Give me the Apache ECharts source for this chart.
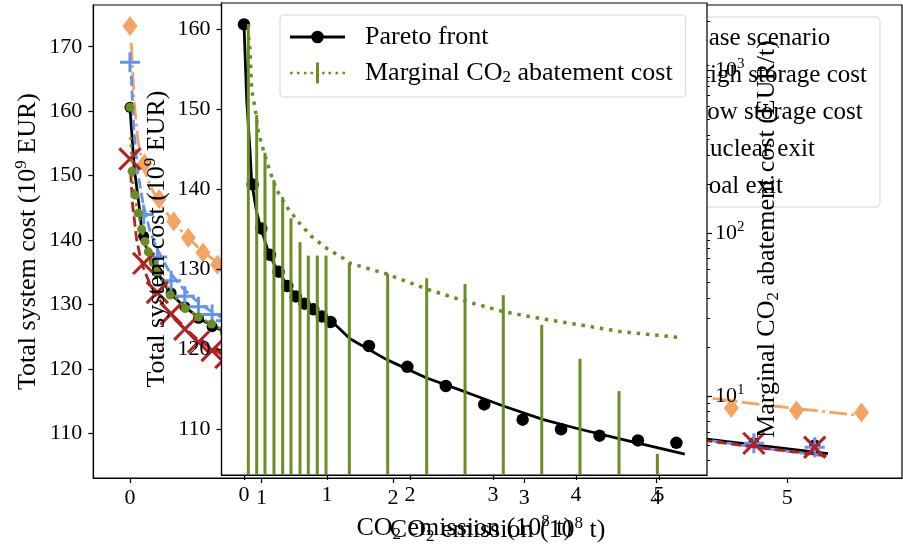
<!DOCTYPE html>
<html>
<head>
<meta charset="utf-8">
<title>Pareto front and scenarios</title>
<script src="https://cdn.jsdelivr.net/npm/echarts@6.0.0/dist/echarts.min.js"></script>
<style>
  html, body { margin: 0; padding: 0; background: #fff; }
  #main { width: 903px; height: 546px; }
</style>
</head>
<body>
<div id="main"></div>
<script>
// values
// x: CO2 emission (1e8 t), y: total system cost (1e9 EUR)

// base scenario = Pareto front of the inset
const baseX = [0, 0.104, 0.208, 0.313, 0.417, 0.521, 0.625, 0.729, 0.834, 0.938, 1.042, 1.505, 1.968, 2.431, 2.894, 3.357, 3.820, 4.283, 4.746, 5.209]
const baseCost = [160.6, 140.6, 135.1, 131.8, 129.7, 127.9, 126.6, 125.7, 125.0, 124.1, 123.4, 120.4, 117.8, 115.4, 113.1, 111.2, 110.0, 109.2, 108.6, 108.3]
// fitted curve through the front
const baseFitX = [0, 0.033, 0.072, 0.093, 0.153, 0.201, 0.305, 0.413, 0.55, 0.7, 0.85, 1.057, 1.277, 1.719, 2.201, 2.683, 3.124, 3.606, 4.048, 4.53, 5.31]
const baseFitCost = [160.6, 151.1, 144.9, 140.8, 137.1, 135.2, 131.8, 129.7, 127.6, 126.0, 124.8, 123.5, 121.3, 118.7, 116.4, 114.6, 112.9, 111.2, 110.0, 108.8, 106.9]

// high storage cost
const highX = [0, 0.111, 0.222, 0.333, 0.444, 0.555, 0.666, 0.777, 0.888, 0.999, 1.11, 1.605, 2.10, 2.595, 3.09, 3.585, 4.08, 4.575, 5.07, 5.565]
const highCost = [173.2, 151.9, 146.4, 142.9, 140.4, 138.1, 136.2, 135.0, 133.8, 132.8, 131.8, 128.3, 125.3, 122.8, 120.6, 118.6, 115.2, 114.0, 113.6, 113.3]
const highFitX = [0.01, 0.03, 0.06, 0.1, 0.15, 0.22, 0.33, 0.44, 0.55, 0.66, 0.8, 1.0, 1.5, 2.0, 2.5, 3.0, 3.5, 4.0, 4.39, 4.8, 5.2, 5.57]
const highFitCost = [170.6, 162.0, 155.5, 151.5, 148.6, 145.9, 142.8, 140.4, 138.3, 136.6, 134.8, 132.6, 128.6, 125.6, 123.1, 121.0, 119.1, 117.2, 115.6, 114.5, 113.6, 112.8]

// low storage cost
const lowX = baseX
const lowCost = [152.6, 136.4, 131.9, 128.6, 126.2, 124.2, 122.9, 121.8, 120.9, 120.1, 119.4, 117.0, 115.0, 113.3, 111.9, 110.7, 109.7, 109.0, 108.5, 107.9]
const lowFitX = [0.005, 0.02, 0.05, 0.08, 0.1, 0.15, 0.2, 0.3, 0.4, 0.5, 0.6, 0.7, 1.0, 1.5, 2.0, 2.5, 3.0, 3.5, 4.0, 4.39, 4.8, 5.3]
const lowFitCost = [150.5, 145.5, 140.2, 137.2, 135.8, 133.3, 131.4, 128.7, 126.6, 124.9, 123.5, 122.3, 119.8, 117.0, 115.0, 113.3, 111.8, 110.5, 109.6, 108.9, 107.8, 106.6]

// nuclear exit
const nucX = baseX
const nucCost = [167.6, 144.0, 137.4, 133.7, 131.3, 129.7, 128.5, 127.5, 126.6, 125.8, 125.0, 122.1, 119.4, 116.9, 114.6, 112.7, 111.0, 109.7, 108.5, 107.9]
const nucFitX = [0.01, 0.03, 0.06, 0.1, 0.15, 0.2, 0.3, 0.4, 0.5, 0.6, 0.7, 1.0, 1.5, 2.0, 2.5, 3.0, 3.5, 4.0, 4.39, 4.8, 5.3]
const nucFitCost = [165.5, 157.0, 150.5, 145.6, 141.6, 138.9, 135.1, 132.6, 130.7, 129.2, 128.0, 125.3, 122.0, 119.2, 116.8, 114.6, 112.6, 110.6, 109.0, 107.8, 106.5]

// coal exit
const coalX = [0, 0.016, 0.039, 0.064, 0.089, 0.114, 0.139, 0.177, 0.203, 0.306, 0.42, 0.52, 0.62, 0.72, 0.83, 0.93, 1.04, 1.5, 1.97, 2.43, 2.89, 3.36]
const coalCost = [160.6, 150.7, 147.0, 144.2, 141.7, 139.8, 138.2, 136.5, 135.1, 131.5, 129.4, 128.1, 127.0, 126.0, 125.1, 124.3, 123.6, 120.5, 117.9, 115.6, 113.5, 111.7]
const coalFitX = [0.005, 0.02, 0.05, 0.1, 0.15, 0.2, 0.3, 0.4, 0.5, 0.6, 0.7, 1.0, 1.5, 2.0, 2.5, 3.0, 3.4]
const coalFitCost = [156.0, 149.2, 145.3, 140.8, 137.9, 135.7, 132.2, 130.0, 128.4, 127.2, 126.2, 124.0, 120.6, 117.9, 115.6, 113.6, 112.2]

// inset: marginal CO2 abatement cost (EUR/t), log axis
const stemX = [0.052, 0.153, 0.253, 0.361, 0.466, 0.566, 0.675, 0.775, 0.883, 0.988, 1.269, 1.731, 2.201, 2.663, 3.124, 3.587, 4.048, 4.518, 4.980]
const stemCost = [1914, 530, 311, 211, 166, 123, 87.7, 72.6, 72.6, 72.6, 65.2, 56.0, 52.7, 48.6, 41.5, 27.3, 16.9, 10.7, 4.41]
const margFitX = [0.055, 0.072, 0.093, 0.133, 0.172, 0.233, 0.313, 0.394, 0.514, 0.654, 0.816, 0.996, 1.196, 1.277, 1.719, 2.201, 2.683, 3.124, 3.606, 4.048, 4.53, 5.253]
const margFitCost = [1600, 1327, 753, 585, 418, 323, 238, 184, 145, 117, 94.8, 80.5, 70.0, 65.2, 56.0, 45.2, 37.9, 32.9, 29.6, 27.3, 24.8, 22.8]

// ticks
const outerXTicks = [0, 1, 2, 3, 4, 5]
const outerXLabels = ['0', '1', '2', '3', '4', '5']
const outerYTicks = [110, 120, 130, 140, 150, 160, 170]
const outerYLabels = ['110', '120', '130', '140', '150', '160', '170']
const insetXTicks = [0, 1, 2, 3, 4, 5]
const insetXLabels = ['0', '1', '2', '3', '4', '5']
const insetYTicks = [110, 120, 130, 140, 150, 160]
const insetYLabels = ['110', '120', '130', '140', '150', '160']
const logTicks = [10, 100, 1000]
const logTickExp = ['1', '2', '3']
const logMinorTicks = [4, 5, 6, 7, 8, 9, 20, 30, 40, 50, 60, 70, 80, 90, 200, 300, 400, 500, 600, 700, 800, 900, 2000]

const scenarioNames = ['Base scenario', 'High storage cost', 'Low storage cost', 'Nuclear exit', 'Coal exit']

const FONT = 'Liberation Serif'
const BLACK = '#000000'
const ORANGE = '#f4a460'
const BLUE = '#6495ed'
const RED = '#b22222'
const GREEN = '#6b8e23'

const PLUS = 'path://M-1.5,-10L1.5,-10L1.5,-1.5L10,-1.5L10,1.5L1.5,1.5L1.5,10L-1.5,10L-1.5,1.5L-10,1.5L-10,-1.5L-1.5,-1.5Z'
const CROSS = 'path://M-1.5,-14.8L1.5,-14.8L1.5,-1.5L14.8,-1.5L14.8,1.5L1.5,1.5L1.5,14.8L-1.5,14.8L-1.5,1.5L-14.8,1.5L-14.8,-1.5L-1.5,-1.5Z'
// legend handles of the inset (55 x 22 box)
const PARETO_ICON = 'path://M0,9.6h21.3v2.8h-21.3z M33.7,9.6h21.3v2.8h-21.3z M21.2,11a6.3,6.3 0 1,1 12.6,0a6.3,6.3 0 1,1 -12.6,0z'
const MARG_ICON = 'path://M0,9.75h2.5v2.5h-2.5z M7,9.75h2.5v2.5h-2.5z M14,9.75h2.5v2.5h-2.5z M20.5,9.75h2.5v2.5h-2.5z M26,0.5h3v21h-3z M32,9.75h2.5v2.5h-2.5z M38.5,9.75h2.5v2.5h-2.5z M45.5,9.75h2.5v2.5h-2.5z M52.5,9.75h2.5v2.5h-2.5z'

function pts(xs, ys) {
  return xs.map((x, i) => [x, ys[i]])
}

function pick(ticks, labels) {
  return function(v) {
    for (let i = 0; i < ticks.length; i++) {
      if (Math.abs(ticks[i] - v) < 1e-6) return labels[i]
    }
    return ''
  }
}

const nameRich = {
  t: { fontFamily: FONT, fontSize: 26, lineHeight: 30, color: BLACK },
  sup: { fontFamily: FONT, fontSize: 17, lineHeight: 18, verticalAlign: 'top', color: BLACK },
  sub: { fontFamily: FONT, fontSize: 17, lineHeight: 12, verticalAlign: 'bottom', color: BLACK }
}
const costName = '{t|Total system cost (10}{sup|9}{t| EUR)}'
const emissionName = '{t|CO}{sub|2}{t| emission (10}{sup|8}{t| t)}'
const marginalName = '{t|Marginal CO}{sub|2}{t| abatement cost (EUR/t)}'

const lineStyle = { color: BLACK, width: 1.2 }
const tickFont = { color: BLACK, fontFamily: FONT, fontSize: 22 }

function axisBase(extra) {
  return Object.assign({
    type: 'value',
    axisLine: { show: true, onZero: false, lineStyle: lineStyle },
    splitLine: { show: false },
    nameMoveOverlap: false
  }, extra)
}

// outer scenario series
function curve(name, xs, ys, color, width, dash, z) {
  return {
    type: 'line', name: name, xAxisIndex: 0, yAxisIndex: 0, data: pts(xs, ys),
    showSymbol: false, symbol: 'circle', z: z, silent: true,
    lineStyle: { color: color, width: width, type: dash }, itemStyle: { color: color }
  }
}
function marks(name, xs, ys, color, symbol, size, rotate, z) {
  return {
    type: 'scatter', name: name, xAxisIndex: 0, yAxisIndex: 0, data: pts(xs, ys),
    symbol: symbol, symbolSize: size, symbolRotate: rotate, z: z, silent: true,
    itemStyle: { color: color, opacity: 1 }
  }
}

const chart = echarts.init(document.getElementById('main'), null, { renderer: 'canvas' })

const option = {
  animation: false,
  backgroundColor: '#ffffff',
  grid: [
    { left: 93.3, right: 1, top: 5, bottom: 68, show: true, borderColor: BLACK, borderWidth: 1.2,
      backgroundColor: 'transparent', containLabel: false, outerBoundsMode: 'none' },
    { left: 221.5, top: 3, width: 485.5, height: 472, show: true, borderColor: BLACK, borderWidth: 1.2,
      backgroundColor: '#ffffff', containLabel: false, outerBoundsMode: 'none', zlevel: 1 }
  ],
  xAxis: [
    axisBase({
      gridIndex: 0, min: -0.279, max: 5.873,
      axisTick: { show: true, length: 5, lineStyle: lineStyle, customValues: outerXTicks },
      axisLabel: Object.assign({ margin: 9, customValues: outerXTicks, formatter: pick(outerXTicks, outerXLabels) }, tickFont),
      name: emissionName, nameLocation: 'middle', nameGap: 37, nameTextStyle: { rich: nameRich }
    }),
    axisBase({
      gridIndex: 1, zlevel: 1, min: -0.271, max: 5.578,
      axisTick: { show: true, length: 5, lineStyle: lineStyle, customValues: insetXTicks },
      axisLabel: Object.assign({ margin: 9, customValues: insetXTicks, formatter: pick(insetXTicks, insetXLabels) }, tickFont),
      name: emissionName, nameLocation: 'middle', nameGap: 38, nameTextStyle: { rich: nameRich }
    })
  ],
  yAxis: [
    axisBase({
      gridIndex: 0, min: 103.13, max: 176.47,
      axisTick: { show: true, length: 5, lineStyle: lineStyle, customValues: outerYTicks },
      axisLabel: Object.assign({ margin: 11, customValues: outerYTicks, formatter: pick(outerYTicks, outerYLabels) }, tickFont),
      name: costName, nameLocation: 'middle', nameGap: 50, nameRotate: 90, nameTextStyle: { rich: nameRich }
    }),
    axisBase({
      gridIndex: 1, zlevel: 1, min: 104.28, max: 163.28,
      axisTick: { show: true, length: 5, lineStyle: lineStyle, customValues: insetYTicks },
      axisLabel: Object.assign({ margin: 11, customValues: insetYTicks, formatter: pick(insetYTicks, insetYLabels) }, tickFont),
      name: costName, nameLocation: 'middle', nameGap: 49, nameRotate: 90, nameTextStyle: { rich: nameRich }
    }),
    axisBase({
      type: 'log', logBase: 10, gridIndex: 1, zlevel: 1, position: 'right', min: 3.27, max: 2576,
      axisLine: { show: false, onZero: false },
      axisTick: { show: true, length: 5, lineStyle: lineStyle, customValues: logTicks },
      axisLabel: {
        margin: 8, customValues: logTicks,
        formatter: function(v) {
          const e = String(Math.round(Math.log10(v)))
          const i = logTickExp.indexOf(e)
          return i < 0 ? '' : '{b|10}{e|' + logTickExp[i] + '}'
        },
        rich: {
          b: { fontFamily: FONT, fontSize: 22, lineHeight: 26, color: BLACK },
          e: { fontFamily: FONT, fontSize: 15, lineHeight: 16, verticalAlign: 'top', color: BLACK }
        }
      },
      name: marginalName, nameLocation: 'middle', nameGap: 45, nameRotate: 90, nameTextStyle: { rich: nameRich }
    }),
    axisBase({
      type: 'log', logBase: 10, gridIndex: 1, zlevel: 1, position: 'right', min: 3.27, max: 2576,
      axisLine: { show: false, onZero: false },
      axisTick: { show: true, length: 3, lineStyle: { color: BLACK, width: 1 }, customValues: logMinorTicks },
      axisLabel: { show: false }
    })
  ],
  legend: [
    {
      data: scenarioNames, orient: 'vertical', left: 636, top: 17, padding: [8, 13, 8, 10],
      itemWidth: 40, itemHeight: 14, itemGap: 11, selectedMode: false, z: 20,
      backgroundColor: 'rgba(255,255,255,0.8)', borderColor: '#d6d6d6', borderWidth: 1, borderRadius: 4,
      textStyle: { fontFamily: FONT, fontSize: 25, lineHeight: 26, color: BLACK }
    },
    {
      data: [
        { name: 'Pareto front', icon: PARETO_ICON },
        { name: 'Marginal CO2 abatement cost', icon: MARG_ICON }
      ],
      orient: 'vertical', left: 280, top: 15, padding: [9, 13, 11, 10], zlevel: 1, z: 20,
      itemWidth: 55, itemHeight: 22, itemGap: 10, selectedMode: false, symbolKeepAspect: true,
      itemStyle: { borderWidth: 0 },
      backgroundColor: 'rgba(255,255,255,0.8)', borderColor: '#d6d6d6', borderWidth: 1, borderRadius: 4,
      formatter: function(name) {
        if (name === 'Marginal CO2 abatement cost') {
          return '{t|Marginal CO}{sub|2}{t| abatement cost}'
        }
        return '{t|' + name + '}'
      },
      textStyle: {
        fontFamily: FONT, fontSize: 26, lineHeight: 26, color: BLACK, padding: [0, 0, 0, 15],
        rich: {
          t: { fontFamily: FONT, fontSize: 26, lineHeight: 26, color: BLACK },
          sub: { fontFamily: FONT, fontSize: 17, lineHeight: 10, verticalAlign: 'bottom', color: BLACK }
        }
      }
    }
  ],
  series: [
    // outer figure: all scenarios
    curve('Base scenario', baseFitX, baseFitCost, BLACK, 2.8, 'solid', 2),
    marks('Base scenario', baseX, baseCost, BLACK, 'circle', 11, 0, 3),
    curve('High storage cost', highFitX, highFitCost, ORANGE, 2.8, [17.8, 4.4, 2.8, 4.4], 4),
    marks('High storage cost', highX, highCost, ORANGE, 'diamond', [15, 20], 0, 5),
    curve('Nuclear exit', nucFitX, nucFitCost, BLUE, 2.8, [10.3, 4.4], 6),
    marks('Nuclear exit', nucX, nucCost, BLUE, PLUS, 20, 0, 7),
    curve('Low storage cost', lowFitX, lowFitCost, RED, 2.8, [10.3, 4.4], 8),
    marks('Low storage cost', lowX, lowCost, RED, CROSS, 30, 45, 9),
    curve('Coal exit', coalFitX, coalFitCost, GREEN, 2.8, [2.8, 4.6], 10),
    marks('Coal exit', coalX, coalCost, GREEN, 'circle', 9, 0, 11),

    // inset: Pareto front and marginal abatement cost
    {
      type: 'line', name: 'Pareto front', xAxisIndex: 1, yAxisIndex: 1, zlevel: 1, z: 3,
      data: pts(baseFitX, baseFitCost), showSymbol: false, symbol: 'circle', silent: true,
      lineStyle: { color: BLACK, width: 2.8 }, itemStyle: { color: BLACK }
    },
    {
      type: 'scatter', name: 'Pareto front', xAxisIndex: 1, yAxisIndex: 1, zlevel: 1, z: 4,
      data: pts(baseX, baseCost), symbol: 'circle', symbolSize: 12.5, silent: true,
      itemStyle: { color: BLACK, opacity: 1 }
    },
    {
      type: 'line', name: 'Marginal CO2 abatement cost', xAxisIndex: 1, yAxisIndex: 2, zlevel: 1, z: 6,
      data: pts(margFitX, margFitCost), showSymbol: false, symbol: 'circle', silent: true,
      lineStyle: { color: GREEN, width: 3.5, type: [3.5, 5.8] }, itemStyle: { color: GREEN }
    },
    {
      type: 'custom', name: 'Marginal CO2 abatement cost', xAxisIndex: 1, yAxisIndex: 2, zlevel: 1, z: 5,
      data: pts(stemX, stemCost), clip: true, silent: true, itemStyle: { color: GREEN },
      renderItem: function(params, api) {
        const top = api.coord([api.value(0), api.value(1)])
        const bottom = params.coordSys.y + params.coordSys.height
        return {
          type: 'line',
          shape: { x1: top[0], y1: top[1], x2: top[0], y2: bottom },
          style: { stroke: GREEN, lineWidth: 3 }
        }
      }
    }
  ]
}

chart.setOption(option)
</script>
</body>
</html>
